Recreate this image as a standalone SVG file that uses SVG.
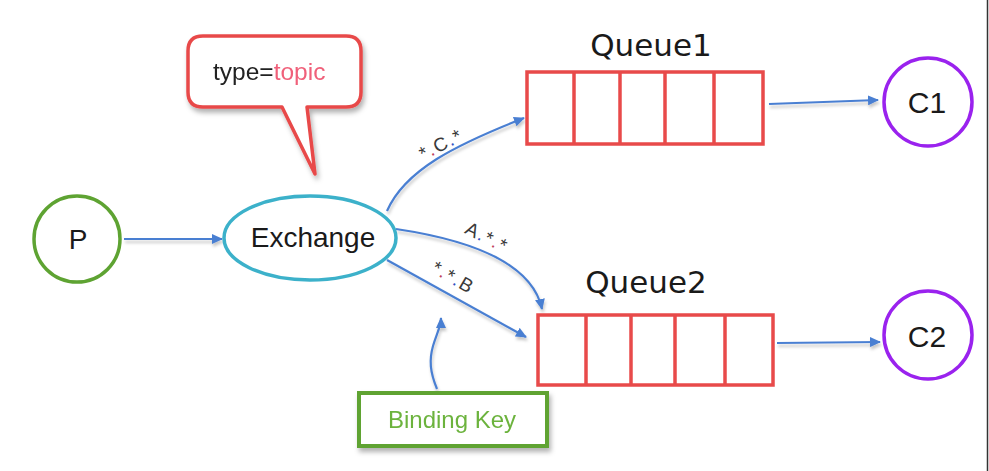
<svg xmlns="http://www.w3.org/2000/svg" width="989" height="471" viewBox="0 0 989 471">
  <style>
    .txt { font-family: "Liberation Sans", Arial, sans-serif; fill: #1a1a1a; }
    .qlbl { font-family: "DejaVu Sans", Verdana, sans-serif; font-size: 31px; fill: #1a1a1a; text-anchor: middle; }
    .queue { fill: #ffffff; stroke: #e84a4a; stroke-width: 3.5; }
    .cell { stroke: #e84a4a; stroke-width: 3.5; }
    .conn { fill: none; stroke: #4a7fd2; stroke-width: 2.2; }
    .key { font-family: "Liberation Sans", Arial, sans-serif; font-size: 19px; letter-spacing: 1.5px; fill: #3a3a3a; text-anchor: middle; }
    .dot { fill: #c0405a; }
    .dot2 { fill: #3050c0; }
  </style>
  <defs>
    <marker id="arrow" markerWidth="12" markerHeight="10" refX="10" refY="5" orient="auto" markerUnits="userSpaceOnUse">
      <path d="M0,0 L11,5 L0,10 Z" fill="#4a7fd2"/>
    </marker>
    <filter id="shadow" x="-20%" y="-20%" width="140%" height="150%">
      <feDropShadow dx="2" dy="4" stdDeviation="2.5" flood-color="#000" flood-opacity="0.3"/>
    </filter>
    <filter id="lineShadow" x="-10%" y="-30%" width="120%" height="160%">
      <feDropShadow dx="1" dy="3" stdDeviation="1.5" flood-color="#000" flood-opacity="0.22"/>
    </filter>
  </defs>

  <rect x="0" y="0" width="989" height="471" fill="#ffffff"/>
  <line x1="987.5" y1="0" x2="987.5" y2="471" stroke="#333" stroke-width="1.5"/>

  <!-- connectors -->
  <g id="connectors" filter="url(#lineShadow)">
    <path class="conn" d="M124,239 L222,239" marker-end="url(#arrow)"/>
    <path class="conn" d="M387,211 C405,170 455,145 524,118" marker-end="url(#arrow)"/>
    <path class="conn" d="M396,229 C470,240 532,262 542,309" marker-end="url(#arrow)"/>
    <path class="conn" d="M387,260 L526,337" marker-end="url(#arrow)"/>
    <path class="conn" d="M769,104 L878,100" marker-end="url(#arrow)"/>
    <path class="conn" d="M777,343 L880,342" marker-end="url(#arrow)"/>
    <path class="conn" d="M437,389 C430,372 429,360 433,346 C437,333 441,326 441,318" marker-end="url(#arrow)"/>
  </g>

  <!-- routing keys -->
  <g id="routing-keys">
    <text class="key" transform="translate(444,150) rotate(-27)">*<tspan class="dot">.</tspan>C<tspan class="dot2">.</tspan>*</text>
    <text class="key" transform="translate(484,243) rotate(27)">A<tspan class="dot2">.</tspan>*<tspan class="dot">.</tspan>*</text>
    <text class="key" transform="translate(450,283) rotate(30)">*<tspan class="dot">.</tspan>*<tspan class="dot2">.</tspan>B</text>
  </g>

  <!-- producer -->
  <g id="producer">
    <circle cx="77" cy="239" r="43" fill="#fff" stroke="#5ea332" stroke-width="3.5"/>
    <text class="txt" x="78" y="249" font-size="28" text-anchor="middle">P</text>
  </g>

  <!-- exchange -->
  <g id="exchange">
    <ellipse cx="310" cy="238" rx="86" ry="42" fill="#fff" stroke="#3cb1ca" stroke-width="3.5"/>
    <text class="txt" x="313" y="247" font-size="28" text-anchor="middle">Exchange</text>
  </g>

  <!-- exchange type callout -->
  <g id="type-callout" filter="url(#shadow)">
    <path d="M203,36 H346 Q361,36 361,51 V92 Q361,107 346,107 H307 L315,174 L282,107 H203 Q188,107 188,92 V51 Q188,36 203,36 Z" fill="#fff" stroke="#e84a4a" stroke-width="3.5" stroke-linejoin="round"/>
    <text class="txt" x="213" y="80" font-size="24.5"><tspan fill="#222">type=</tspan><tspan fill="#f0607a">topic</tspan></text>
  </g>

  <!-- queue 1 -->
  <g id="queue1">
    <text class="qlbl" x="651" y="56">Queue1</text>
    <rect class="queue" x="527" y="72" width="236" height="72"/>
    <line class="cell" x1="574" y1="72" x2="574" y2="144"/>
    <line class="cell" x1="620" y1="72" x2="620" y2="144"/>
    <line class="cell" x1="665" y1="72" x2="665" y2="144"/>
    <line class="cell" x1="714" y1="72" x2="714" y2="144"/>
  </g>

  <!-- queue 2 -->
  <g id="queue2">
    <text class="qlbl" x="646" y="293">Queue2</text>
    <rect class="queue" x="538" y="315" width="235" height="70"/>
    <line class="cell" x1="586" y1="315" x2="586" y2="385"/>
    <line class="cell" x1="631" y1="315" x2="631" y2="385"/>
    <line class="cell" x1="675" y1="315" x2="675" y2="385"/>
    <line class="cell" x1="725" y1="315" x2="725" y2="385"/>
  </g>

  <!-- consumers -->
  <g id="consumer1">
    <circle cx="928" cy="102" r="44" fill="#fff" stroke="#9a22ee" stroke-width="3.5"/>
    <text class="txt" x="927" y="113" font-size="30" text-anchor="middle">C1</text>
  </g>
  <g id="consumer2">
    <circle cx="928" cy="335" r="44" fill="#fff" stroke="#9a22ee" stroke-width="3.5"/>
    <text class="txt" x="927" y="347" font-size="30" text-anchor="middle">C2</text>
  </g>

  <!-- binding key note -->
  <g id="binding-key" filter="url(#shadow)">
    <rect x="359" y="393" width="188" height="53" fill="#fff" stroke="#5ea332" stroke-width="4"/>
    <text class="txt" x="452" y="428" font-size="24" text-anchor="middle" style="fill:#6cb33e">Binding Key</text>
  </g>
</svg>
